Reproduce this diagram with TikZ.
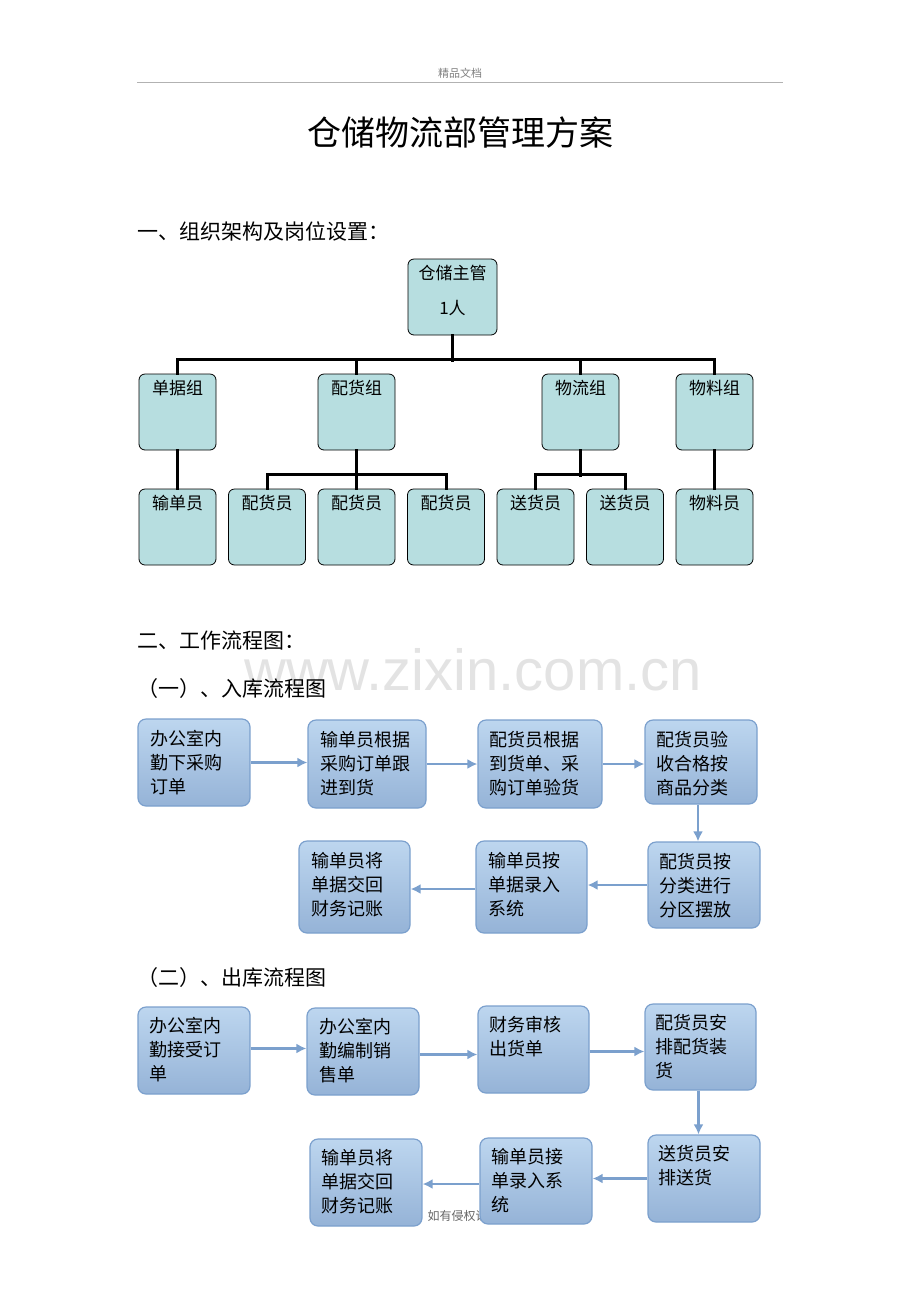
\documentclass[tikz,border=0pt]{standalone}
\usepackage{fontspec}
\setmainfont{Noto Sans CJK SC}
\newfontfamily\wmfont{Liberation Sans}
\usetikzlibrary{arrows.meta}
\definecolor{orgfill}{HTML}{B7DEE0}
\definecolor{flowtop}{HTML}{BDD6EF}
\definecolor{flowbot}{HTML}{95B3D7}
\definecolor{flowline}{HTML}{7BA0CD}
\tikzset{orgbox/.style = {draw, line width=0.8, rounded corners=6, fill=orgfill,
                          minimum width=77, minimum height=76, inner sep=0}}
\tikzset{orglabel/.style = {anchor=north, inner sep=0, font=\fontsize{17}{20}\selectfont}}
\tikzset{orgline/.style = {line width=3, line cap=rect}}
\tikzset{flowbox/.style = {draw=flowline, line width=1.2, rounded corners=8,
                           top color=flowtop, bottom color=flowbot, inner sep=0}}
\tikzset{flowlabel/.style = {anchor=north west, inner sep=0, align=left,
                             font=\fontsize{18}{24}\selectfont}}
\tikzset{flowarrow/.style = {draw=flowline, line width=2.2, -{Latex[length=10,width=10]}}}
\tikzset{head/.style = {anchor=west, inner sep=0, font=\fontsize{21}{24}\selectfont}}

\begin{document}
\begin{tikzpicture}[x=1pt, y=-1pt]
      \useasboundingbox (0,0) rectangle (920,1302);

      % page header
      \node [text=gray, font=\fontsize{11}{12}\selectfont] (hdr) at (460,73) {精品文档};
      \coordinate (hl) at (137,82);
      \coordinate (hr) at (783,82);
      \draw [gray!60, line width=1] (hl) -- (hr);

      \node [font=\fontsize{34}{36}\selectfont] (title) at (460,133) {仓储物流部管理方案};
      \node [head] (sec1) at (137,231) {一、组织架构及岗位设置：};

      % org chart
      \node [orgbox, minimum width=89] (boss) at (452.5,297) {};
      \node [orglabel, align=center] at ([yshift=-6]boss.north) {仓储主管\\[15pt]1人};

      \node [orgbox] (g1) at (177.5,412) {};
      \node [orgbox] (g2) at (356.5,412) {};
      \node [orgbox] (g3) at (580.5,412) {};
      \node [orgbox] (g4) at (714.5,412) {};
      \node [orglabel] at ([yshift=-6]g1.north) {单据组};
      \node [orglabel] at ([yshift=-6]g2.north) {配货组};
      \node [orglabel] at ([yshift=-6]g3.north) {物流组};
      \node [orglabel] at ([yshift=-6]g4.north) {物料组};

      \node [orgbox] (s1) at (177.5,527) {};
      \node [orgbox] (s2) at (267,527) {};
      \node [orgbox] (s3) at (356.5,527) {};
      \node [orgbox] (s4) at (446,527) {};
      \node [orgbox] (s5) at (535.5,527) {};
      \node [orgbox] (s6) at (625,527) {};
      \node [orgbox] (s7) at (714.5,527) {};
      \node [orglabel] at ([yshift=-6]s1.north) {输单员};
      \node [orglabel] at ([yshift=-6]s2.north) {配货员};
      \node [orglabel] at ([yshift=-6]s3.north) {配货员};
      \node [orglabel] at ([yshift=-6]s4.north) {配货员};
      \node [orglabel] at ([yshift=-6]s5.north) {送货员};
      \node [orglabel] at ([yshift=-6]s6.north) {送货员};
      \node [orglabel] at ([yshift=-6]s7.north) {物料员};

      \draw [orgline] (boss.south) -- ++(0,25);
      \draw [orgline] (g1.north) -- ++(0,-14) -| (g4.north);
      \draw [orgline] (g2.north) -- ++(0,-14);
      \draw [orgline] (g3.north) -- ++(0,-14);
      \draw [orgline] (g1.south) -- (s1.north);
      \draw [orgline] (g4.south) -- (s7.north);
      \draw [orgline] (g2.south) -- (s3.north);
      \draw [orgline] (s2.north) -- ++(0,-14) -| (s4.north);
      \draw [orgline] (g3.south) -- ++(0,25);
      \draw [orgline] (s5.north) -- ++(0,-14) -| (s6.north);

      \node [head] (sec2) at (137,641) {二、工作流程图：};
      \node [text=black!11, font=\wmfont\fontsize{58}{60}\selectfont] (wm) at (473,670) {www.zixin.com.cn};
      \node [head] (sec21) at (137,689) {（一）、入库流程图};

      % inbound flow
      \node [flowbox, minimum width=112, minimum height=87] (a1) at (194,762.5) {};
      \node [flowbox, minimum width=118, minimum height=88] (a2) at (367,764) {};
      \node [flowbox, minimum width=124, minimum height=88] (a3) at (540,764) {};
      \node [flowbox, minimum width=112, minimum height=84] (a4) at (701,762) {};
      \node [flowbox, minimum width=112, minimum height=86] (a5) at (704,885) {};
      \node [flowbox, minimum width=111, minimum height=92] (a6) at (531.5,887) {};
      \node [flowbox, minimum width=111, minimum height=92] (a7) at (354.5,887) {};
      \node [flowlabel] at ([shift={(13,12)}]a1.north west) {办公室内\\勤下采购\\订单};
      \node [flowlabel] at ([shift={(13,12)}]a2.north west) {输单员根据\\采购订单跟\\进到货};
      \node [flowlabel] at ([shift={(12,12)}]a3.north west) {配货员根据\\到货单、采\\购订单验货};
      \node [flowlabel] at ([shift={(12,12)}]a4.north west) {配货员验\\收合格按\\商品分类};
      \node [flowlabel] at ([shift={(12,12)}]a5.north west) {配货员按\\分类进行\\分区摆放};
      \node [flowlabel] at ([shift={(13,12)}]a6.north west) {输单员按\\单据录入\\系统};
      \node [flowlabel] at ([shift={(13,12)}]a7.north west) {输单员将\\单据交回\\财务记账};

      \draw [flowarrow] (a1.east) -- (a1.east -| a2.west);
      \draw [flowarrow] (a2.east) -- (a2.east -| a3.west);
      \draw [flowarrow] (a3.east) -- (a3.east -| a4.west);
      \draw [flowarrow] ([xshift=-3]a4.south) -- ([xshift=-3]a4.south |- a5.north);
      \draw [flowarrow] (a5.west) -- (a5.west -| a6.east);
      \draw [flowarrow] ([yshift=-2]a6.west) -- ([yshift=-2]a6.west -| a7.east);

      \node [head] (sec22) at (137,978) {（二）、出库流程图};

      % outbound flow
      \node [text=gray!80!black, anchor=west, font=\fontsize{12}{14}\selectfont] (foot) at (424,1216) {如有侵权请};
      \node [flowbox, minimum width=112, minimum height=87] (b1) at (194,1050.5) {};
      \node [flowbox, minimum width=112, minimum height=87] (b2) at (363,1051.5) {};
      \node [flowbox, minimum width=111, minimum height=87] (b3) at (533.5,1049.5) {};
      \node [flowbox, minimum width=111, minimum height=86] (b4) at (700.5,1047) {};
      \node [flowbox, minimum width=112, minimum height=87] (b5) at (704,1178.5) {};
      \node [flowbox, minimum width=112, minimum height=86] (b6) at (536,1181) {};
      \node [flowbox, minimum width=112, minimum height=87] (b7) at (366,1182.5) {};
      \node [flowlabel] at ([shift={(12,11)}]b1.north west) {办公室内\\勤接受订\\单};
      \node [flowlabel] at ([shift={(13,11)}]b2.north west) {办公室内\\勤编制销\\售单};
      \node [flowlabel] at ([shift={(12,11)}]b3.north west) {财务审核\\出货单};
      \node [flowlabel] at ([shift={(11,11)}]b4.north west) {配货员安\\排配货装\\货};
      \node [flowlabel] at ([shift={(11,11)}]b5.north west) {送货员安\\排送货};
      \node [flowlabel] at ([shift={(12,11)}]b6.north west) {输单员接\\单录入系\\统};
      \node [flowlabel] at ([shift={(12,11)}]b7.north west) {输单员将\\单据交回\\财务记账};

      \draw [flowarrow] ([yshift=2]b1.east) -- ([yshift=2]b1.east -| b2.west);
      \draw [flowarrow] ([yshift=-3]b2.east) -- ([yshift=-3]b2.east -| b3.west);
      \draw [flowarrow] ([yshift=-2]b3.east) -- ([yshift=-2]b3.east -| b4.west);
      \draw [flowarrow] ([xshift=-2]b4.south) -- ([xshift=-2]b4.south |- b5.north);
      \draw [flowarrow] (b5.west) -- (b5.west -| b6.east);
      \draw [flowarrow] ([yshift=-3]b6.west) -- ([yshift=-3]b6.west -| b7.east);
\end{tikzpicture}
\end{document}
